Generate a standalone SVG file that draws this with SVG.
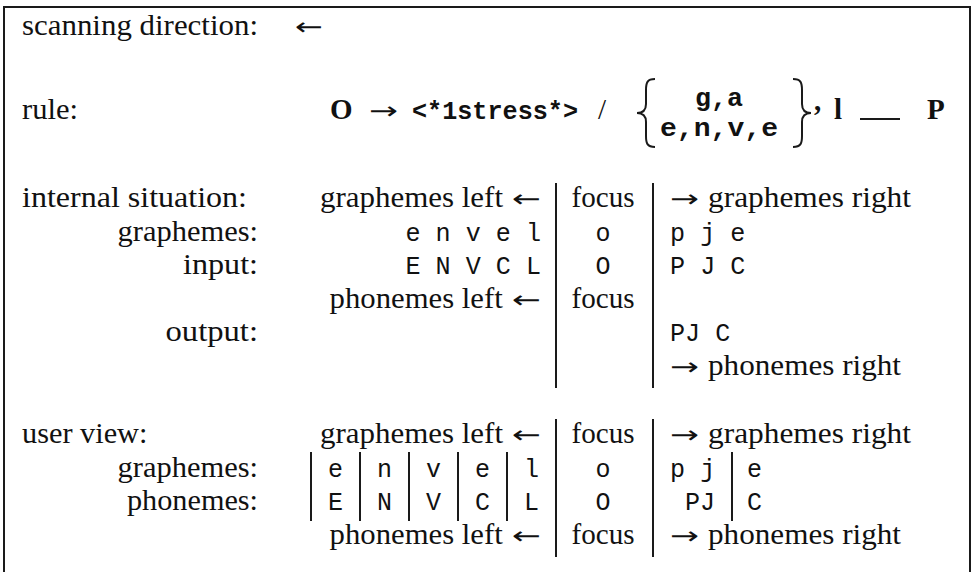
<svg xmlns="http://www.w3.org/2000/svg" width="974" height="572" viewBox="0 0 974 572">
<style>
.t{font-family:"Liberation Serif",serif;font-size:29px;fill:#111}
.b{font-family:"Liberation Serif",serif;font-size:29px;font-weight:bold;fill:#111}
.a{font-family:"DejaVu Sans",sans-serif;font-size:24px;fill:#111}
.m{font-family:"Liberation Mono",monospace;font-size:25px;fill:#111}
.mb{font-family:"Liberation Mono",monospace;font-size:25px;font-weight:bold;fill:#111}
.c{text-anchor:middle}
.ln{stroke:#1a1a1a;stroke-width:2;fill:none}
</style>
<rect width="974" height="572" fill="#fff"/>
<g id="frame"><path class="ln" d="M4,572 V7 H970 V572"/></g>
<g id="scanning">
<text class="t" x="22" y="35" textLength="236" lengthAdjust="spacingAndGlyphs">scanning direction:</text>
<text class="a" x="295" y="35" textLength="28" lengthAdjust="spacingAndGlyphs">←</text>
</g>
<g id="rule">
<text class="t" x="22" y="119" textLength="56" lengthAdjust="spacingAndGlyphs">rule:</text>
<text class="b" x="330" y="119">O</text>
<text class="a" x="369" y="119" textLength="29" lengthAdjust="spacingAndGlyphs">→</text>
<text class="mb" x="412" y="119" textLength="166" lengthAdjust="spacingAndGlyphs">&lt;*1stress*&gt;</text>
<text class="t" x="598" y="119">/</text>
<path class="ln" stroke-width="2.5" d="M655,79 C647,79 646,83 646,90 L646,104 C646,110 643,113 637,113 C643,113 646,116 646,122 L646,136 C646,143 647,147 655,147"/>
<text class="mb" x="695" y="106" textLength="48" lengthAdjust="spacingAndGlyphs">g,a</text>
<text class="mb" x="660" y="136" textLength="118" lengthAdjust="spacingAndGlyphs">e,n,v,e</text>
<path class="ln" stroke-width="2.5" d="M793,79 C801,79 802,83 802,90 L802,104 C802,110 805,113 811,113 C805,113 802,116 802,122 L802,136 C802,143 801,147 793,147"/>
<text class="b" x="814" y="110">,</text>
<text class="b" x="834" y="119">l</text>
<line class="ln" x1="860" y1="119" x2="900" y2="119"/>
<text class="b" x="927" y="119">P</text>
</g>
<g id="connectors">
<line class="ln" x1="556" y1="183" x2="556" y2="388"/>
<line class="ln" x1="653" y1="183" x2="653" y2="388"/>
<line class="ln" x1="556" y1="419" x2="556" y2="557"/>
<line class="ln" x1="653" y1="419" x2="653" y2="557"/>
<line class="ln" x1="311" y1="452" x2="311" y2="521"/>
<line class="ln" x1="360" y1="452" x2="360" y2="521"/>
<line class="ln" x1="409" y1="452" x2="409" y2="521"/>
<line class="ln" x1="458" y1="452" x2="458" y2="521"/>
<line class="ln" x1="507" y1="452" x2="507" y2="521"/>
<line class="ln" x1="732" y1="452" x2="732" y2="521"/>
</g>
<g id="internal">
<text class="t" x="22" y="207" textLength="225" lengthAdjust="spacingAndGlyphs">internal situation:</text>
<text class="t" x="320" y="207" textLength="183" lengthAdjust="spacingAndGlyphs">graphemes left</text>
<text class="a" x="512" y="207" textLength="29" lengthAdjust="spacingAndGlyphs">←</text>
<text class="t" x="571.5" y="207" textLength="63" lengthAdjust="spacingAndGlyphs">focus</text>
<text class="a" x="670" y="207" textLength="29" lengthAdjust="spacingAndGlyphs">→</text>
<text class="t" x="708" y="207" textLength="203" lengthAdjust="spacingAndGlyphs">graphemes right</text>
<text class="t" x="117.5" y="240.5" textLength="140.5" lengthAdjust="spacingAndGlyphs">graphemes:</text>
<text class="m" x="405.4" y="240.5" textLength="135.6" lengthAdjust="spacingAndGlyphs">e n v e l</text>
<text class="m c" x="603" y="240.5">o</text>
<text class="m" x="670" y="240.5" textLength="75.4" lengthAdjust="spacingAndGlyphs">p j e</text>
<text class="t" x="183" y="274" textLength="75" lengthAdjust="spacingAndGlyphs">input:</text>
<text class="m" x="405.4" y="274" textLength="135.6" lengthAdjust="spacingAndGlyphs">E N V C L</text>
<text class="m c" x="603" y="274">O</text>
<text class="m" x="670" y="274" textLength="75.4" lengthAdjust="spacingAndGlyphs">P J C</text>
<text class="t" x="329.6" y="307.5" textLength="173.1" lengthAdjust="spacingAndGlyphs">phonemes left</text>
<text class="a" x="512" y="307.5" textLength="29" lengthAdjust="spacingAndGlyphs">←</text>
<text class="t" x="571.5" y="307.5" textLength="63" lengthAdjust="spacingAndGlyphs">focus</text>
<text class="t" x="165.5" y="341" textLength="92.5" lengthAdjust="spacingAndGlyphs">output:</text>
<text class="m" x="670" y="341" textLength="60.3" lengthAdjust="spacingAndGlyphs">PJ C</text>
<text class="a" x="670" y="374.5" textLength="29" lengthAdjust="spacingAndGlyphs">→</text>
<text class="t" x="708" y="374.5" textLength="193" lengthAdjust="spacingAndGlyphs">phonemes right</text>
</g>
<g id="userview">
<text class="t" x="22" y="443" textLength="125.4" lengthAdjust="spacingAndGlyphs">user view:</text>
<text class="t" x="320" y="443" textLength="183" lengthAdjust="spacingAndGlyphs">graphemes left</text>
<text class="a" x="512" y="443" textLength="29" lengthAdjust="spacingAndGlyphs">←</text>
<text class="t" x="571.5" y="443" textLength="63" lengthAdjust="spacingAndGlyphs">focus</text>
<text class="a" x="670" y="443" textLength="29" lengthAdjust="spacingAndGlyphs">→</text>
<text class="t" x="708" y="443" textLength="203" lengthAdjust="spacingAndGlyphs">graphemes right</text>
<text class="t" x="117.5" y="476.5" textLength="140.5" lengthAdjust="spacingAndGlyphs">graphemes:</text>
<text class="m c" x="335.5" y="476.5">e</text>
<text class="m c" x="384.5" y="476.5">n</text>
<text class="m c" x="433.5" y="476.5">v</text>
<text class="m c" x="482.5" y="476.5">e</text>
<text class="m c" x="531.5" y="476.5">l</text>
<text class="m c" x="603" y="476.5">o</text>
<text class="m" x="670" y="476.5" textLength="45.2" lengthAdjust="spacingAndGlyphs">p j</text>
<text class="m" x="747" y="476.5">e</text>
<text class="t" x="127" y="510" textLength="131" lengthAdjust="spacingAndGlyphs">phonemes:</text>
<text class="m c" x="335.5" y="510">E</text>
<text class="m c" x="384.5" y="510">N</text>
<text class="m c" x="433.5" y="510">V</text>
<text class="m c" x="482.5" y="510">C</text>
<text class="m c" x="531.5" y="510">L</text>
<text class="m c" x="603" y="510">O</text>
<text class="m" x="685" y="510" textLength="30.1" lengthAdjust="spacingAndGlyphs">PJ</text>
<text class="m" x="747" y="510">C</text>
<text class="t" x="329.6" y="543.5" textLength="173.1" lengthAdjust="spacingAndGlyphs">phonemes left</text>
<text class="a" x="512" y="543.5" textLength="29" lengthAdjust="spacingAndGlyphs">←</text>
<text class="t" x="571.5" y="543.5" textLength="63" lengthAdjust="spacingAndGlyphs">focus</text>
<text class="a" x="670" y="543.5" textLength="29" lengthAdjust="spacingAndGlyphs">→</text>
<text class="t" x="708" y="543.5" textLength="193" lengthAdjust="spacingAndGlyphs">phonemes right</text>
</g>
</svg>
